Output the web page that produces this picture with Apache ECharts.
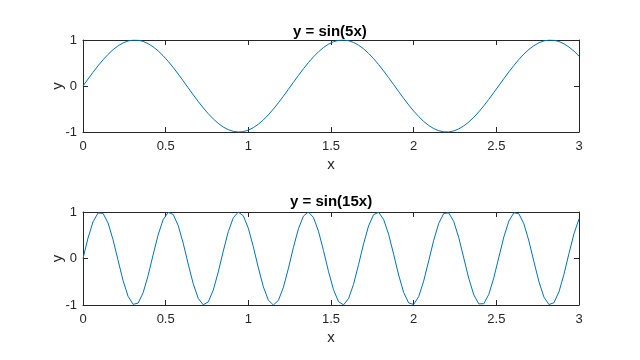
<!DOCTYPE html>
<html>
<head>
<meta charset="utf-8">
<script src="https://cdn.jsdelivr.net/npm/echarts@6/dist/echarts.min.js"></script>
<style>html,body{margin:0;padding:0;background:#fff}#c{width:640px;height:360px}</style>
</head>
<body>
<div id="c"></div>
<script>
var xValues = [0, 0.0303, 0.0606, 0.0909, 0.1212, 0.1515, 0.1818, 0.2121, 0.2424, 0.2727,
0.3030, 0.3333, 0.3636, 0.3939, 0.4242, 0.4545, 0.4848, 0.5152, 0.5455, 0.5758,
0.6061, 0.6364, 0.6667, 0.6970, 0.7273, 0.7576, 0.7879, 0.8182, 0.8485, 0.8788,
0.9091, 0.9394, 0.9697, 1.0000, 1.0303, 1.0606, 1.0909, 1.1212, 1.1515, 1.1818,
1.2121, 1.2424, 1.2727, 1.3030, 1.3333, 1.3636, 1.3939, 1.4242, 1.4545, 1.4848,
1.5152, 1.5455, 1.5758, 1.6061, 1.6364, 1.6667, 1.6970, 1.7273, 1.7576, 1.7879,
1.8182, 1.8485, 1.8788, 1.9091, 1.9394, 1.9697, 2.0000, 2.0303, 2.0606, 2.0909,
2.1212, 2.1515, 2.1818, 2.2121, 2.2424, 2.2727, 2.3030, 2.3333, 2.3636, 2.3939,
2.4242, 2.4545, 2.4848, 2.5152, 2.5455, 2.5758, 2.6061, 2.6364, 2.6667, 2.6970,
2.7273, 2.7576, 2.7879, 2.8182, 2.8485, 2.8788, 2.9091, 2.9394, 2.9697, 3.0000];

var ySin5 = [0, 0.151, 0.298, 0.439, 0.570, 0.687, 0.789, 0.873, 0.936, 0.979,
0.998, 0.995, 0.970, 0.921, 0.852, 0.764, 0.657, 0.536, 0.403, 0.260,
0.111, -0.040, -0.191, -0.337, -0.475, -0.602, -0.716, -0.813, -0.892, -0.950,
-0.986, -1.000, -0.991, -0.959, -0.905, -0.831, -0.737, -0.627, -0.502, -0.365,
-0.221, -0.071, 0.080, 0.230, 0.374, 0.510, 0.634, 0.743, 0.836, 0.909,
0.962, 0.992, 1.000, 0.985, 0.947, 0.887, 0.808, 0.709, 0.595, 0.467,
0.328, 0.181, 0.031, -0.120, -0.269, -0.411, -0.544, -0.664, -0.770, -0.857,
-0.925, -0.972, -0.996, -0.998, -0.977, -0.933, -0.868, -0.783, -0.680, -0.562,
-0.431, -0.289, -0.142, 0.009, 0.160, 0.307, 0.447, 0.577, 0.694, 0.795,
0.877, 0.940, 0.981, 0.999, 0.994, 0.967, 0.918, 0.847, 0.758, 0.650];

var ySin15 = [0, 0.439, 0.789, 0.979, 0.970, 0.764, 0.403, -0.040, -0.475, -0.813,
-0.986, -0.959, -0.737, -0.365, 0.080, 0.510, 0.836, 0.992, 0.947, 0.709,
0.328, -0.120, -0.544, -0.857, -0.996, -0.933, -0.680, -0.289, 0.160, 0.577,
0.877, 0.999, 0.918, 0.650, 0.251, -0.200, -0.610, -0.896, -1.000, -0.901,
-0.619, -0.212, 0.239, 0.641, 0.913, 0.999, 0.883, 0.587, 0.172, -0.278,
-0.671, -0.929, -0.997, -0.863, -0.554, -0.132, 0.316, 0.701, 0.943, 0.993,
0.842, 0.520, 0.092, -0.354, -0.729, -0.955, -0.988, -0.820, -0.485, -0.052,
0.391, 0.756, 0.967, 0.981, 0.796, 0.450, 0.012, -0.428, -0.781, -0.976,
-0.972, -0.771, -0.414, 0.028, 0.464, 0.806, 0.984, 0.962, 0.745, 0.377,
-0.068, -0.499, -0.829, -0.990, -0.951, -0.718, -0.339, 0.108, 0.534, 0.851];

var titles = ['y = sin(5x)', 'y = sin(15x)'];
var xLabelName = 'x';
var yLabelName = 'y';

var FONT = '"Liberation Sans", Arial, Helvetica, sans-serif';
var AX = '#262626';
var grids = [
  {left: 83, top: 40, width: 496, height: 92},
  {left: 83, top: 212, width: 496, height: 93}
];

function pairs(xs, ys) { return xs.map(function (x, i) { return [x, ys[i]]; }); }

var xAxes = [], yAxes = [];
grids.forEach(function (g, gi) {
  ['bottom', 'top'].forEach(function (pos) {
    var main = pos === 'bottom';
    xAxes.push({
      gridIndex: gi, type: 'value', position: pos, min: 0, max: 3, interval: 0.5,
      name: main ? xLabelName : '', nameLocation: 'middle', nameGap: 25, nameMoveOverlap: false,
      nameTextStyle: {fontFamily: FONT, fontSize: 15, color: AX},
      axisLine: {show: true, onZero: false, lineStyle: {color: AX, width: 1}},
      axisTick: {show: true, inside: true, length: 5, lineStyle: {color: AX}},
      axisLabel: {show: main, margin: 8, fontFamily: FONT, fontSize: 13, color: AX},
      splitLine: {show: false}
    });
  });
  ['left', 'right'].forEach(function (pos) {
    var main = pos === 'left';
    yAxes.push({
      gridIndex: gi, type: 'value', position: pos, min: -1, max: 1, interval: 1,
      name: main ? yLabelName : '', nameLocation: 'middle', nameGap: 18, nameRotate: 90,
      nameMoveOverlap: false,
      nameTextStyle: {fontFamily: FONT, fontSize: 15, color: AX},
      axisLine: {show: true, onZero: false, lineStyle: {color: AX, width: 1}},
      axisTick: {show: true, inside: true, length: 5, lineStyle: {color: AX}},
      axisLabel: {show: main, margin: 6, fontFamily: FONT, fontSize: 13, color: AX},
      splitLine: {show: false}
    });
  });
});

var chart = echarts.init(document.getElementById('c'), null, {renderer: 'canvas'});
chart.setOption({
  animation: false,
  backgroundColor: '#fff',
  title: [
    {text: titles[0], left: 288, top: 19,
     textStyle: {fontFamily: FONT, fontSize: 15, fontWeight: 'bold', color: '#000'}},
    {text: titles[1], left: 285, top: 189,
     textStyle: {fontFamily: FONT, fontSize: 15, fontWeight: 'bold', color: '#000'}}
  ],
  grid: grids,
  xAxis: xAxes,
  yAxis: yAxes,
  series: [
    {type: 'line', xAxisIndex: 0, yAxisIndex: 0, data: pairs(xValues, ySin5),
     showSymbol: false, lineStyle: {color: '#0072BD', width: 1}},
    {type: 'line', xAxisIndex: 2, yAxisIndex: 2, data: pairs(xValues, ySin15),
     showSymbol: false, lineStyle: {color: '#0072BD', width: 1}}
  ]
});
</script>
</body>
</html>
